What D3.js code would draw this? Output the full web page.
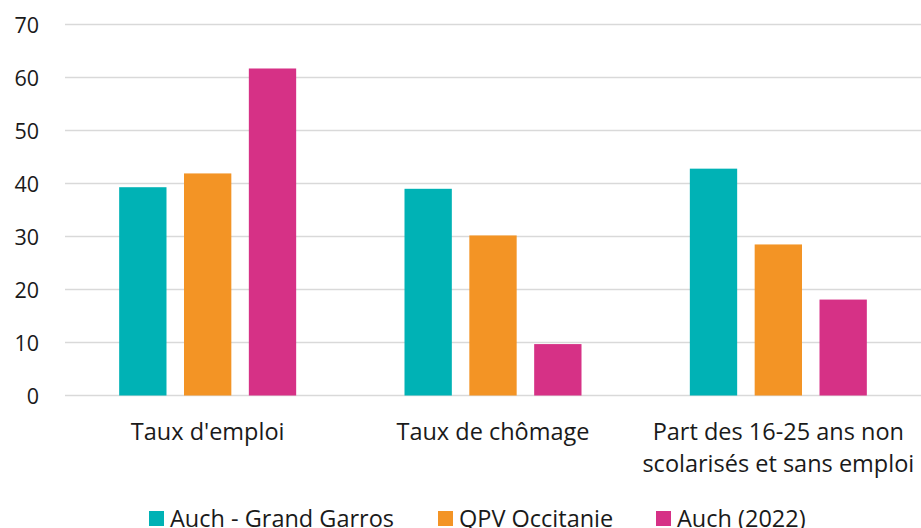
<!DOCTYPE html>
<html><head><meta charset="utf-8">
<script src="https://cdn.jsdelivr.net/npm/d3@7"></script>
<style>body{margin:0;background:#fff}svg{display:block;font-family:"Open Sans",sans-serif}</style>
</head><body><svg id="c" width="921" height="528"></svg>
<script>
const categories = [["Taux d'emploi"], ["Taux de chômage"], ["Part des 16-25 ans non", "scolarisés et sans emploi"]];
const series = ["Auch - Grand Garros", "QPV Occitanie", "Auch (2022)"];
const colors = ["#00B2B5", "#F39425", "#D63186"];
const values = [
  [39.3, 39.0, 42.8],
  [41.9, 30.2, 28.5],
  [61.7, 9.7, 18.1]
];
const yTicks = [0, 10, 20, 30, 40, 50, 60, 70];

const svg = d3.select("#c");
const x0 = d3.scaleBand().domain(d3.range(categories.length)).range([65, 921]);
const y = d3.scaleLinear().domain([0, 70]).range([395.5, 24.5]);
const x1 = d3.scaleBand().domain(d3.range(series.length)).range([0, 177]).paddingInner(0.27);

svg.append("g").selectAll("line").data(yTicks).join("line")
  .attr("x1", 65).attr("x2", 921).attr("y1", d => y(d)).attr("y2", d => y(d))
  .attr("stroke", "#d9d9d9").attr("stroke-width", 1.5);

svg.append("g").selectAll("text").data(yTicks).join("text")
  .attr("x", 39).attr("y", d => y(d) + 8).attr("text-anchor", "end")
  .attr("font-size", 21.5).attr("fill", "#1a1a1a").text(d => d);

series.forEach((s, si) => {
  svg.append("g").selectAll("rect").data(values[si]).join("rect")
    .attr("x", (d, ci) => x0(ci) + (x0.bandwidth() - 177) / 2 + x1(si))
    .attr("width", x1.bandwidth())
    .attr("y", d => y(d)).attr("height", d => y(0) - y(d))
    .attr("fill", colors[si]);
});

const lab = svg.append("g").selectAll("text").data(categories).join("text")
  .attr("x", (d, i) => x0(i) + x0.bandwidth() / 2).attr("y", 440)
  .attr("text-anchor", "middle").attr("font-size", 23.5).attr("fill", "#1a1a1a");
lab.each(function(d) {
  d3.select(this).selectAll("tspan").data(d).join("tspan")
    .attr("x", d3.select(this).attr("x")).attr("dy", (t, i) => i ? 32 : 0).text(t => t);
});

const legX = [149, 438, 656];
const leg = svg.append("g").selectAll("g").data(series).join("g")
  .attr("transform", (d, i) => `translate(${legX[i]},0)`);
leg.append("rect").attr("x", 0).attr("y", 511).attr("width", 15).attr("height", 15)
  .attr("fill", (d, i) => colors[i]);
leg.append("text").attr("x", 21).attr("y", 527).attr("font-size", 23.5).attr("fill", "#1a1a1a").text(d => d);
</script></body></html>
